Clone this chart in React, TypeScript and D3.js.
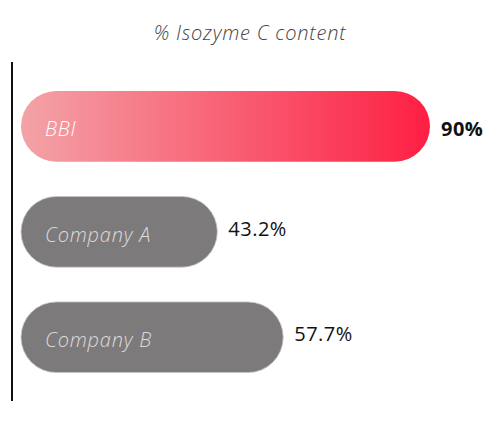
import React, { useEffect, useRef } from "react";
import * as d3 from "d3";

const categories = ["BBI", "Company A", "Company B"];
const values = [90, 43.2, 57.7];
const valueLabels = ["90%", "43.2%", "57.7%"];
const title = "% Isozyme C content";

const W = 500;
const H = 429;

export default function App() {
  const ref = useRef<SVGSVGElement | null>(null);

  useEffect(() => {
    const svg = d3.select(ref.current);
    svg.selectAll("*").remove();

    const font = "'Open Sans', 'Noto Sans', sans-serif";

    const x = d3.scaleLinear().domain([0, 90]).range([21, 430]);
    const y = d3
      .scaleBand<string>()
      .domain(categories)
      .range([73.6, 390])
      .paddingInner(0.33)
      .paddingOuter(0.165);

    const defs = svg.append("defs");
    const grad = defs
      .append("linearGradient")
      .attr("id", "bbi-grad")
      .attr("x1", "0%")
      .attr("x2", "100%")
      .attr("y1", "0%")
      .attr("y2", "0%");
    grad.append("stop").attr("offset", "0%").attr("stop-color", "#f3a3a7");
    grad.append("stop").attr("offset", "100%").attr("stop-color", "#fe1f43");

    // title
    svg
      .append("text")
      .attr("x", 250)
      .attr("y", 40)
      .attr("text-anchor", "middle")
      .attr("font-family", font)
      .attr("font-style", "italic")
      .attr("font-weight", 300)
      .attr("font-size", 20)
      .attr("letter-spacing", 0.8)
      .attr("fill", "#444")
      .text(title);

    // vertical axis line
    svg
      .append("line")
      .attr("x1", 12)
      .attr("x2", 12)
      .attr("y1", 62)
      .attr("y2", 401)
      .attr("stroke", "#111")
      .attr("stroke-width", 2);

    const rows = categories.map((c, i) => ({ c, v: values[i], label: valueLabels[i], i }));
    const bw = y.bandwidth();

    const g = svg.selectAll(".row").data(rows).join("g").attr("class", "row");

    g.append("rect")
      .attr("x", x(0))
      .attr("y", (d) => y(d.c)!)
      .attr("width", (d) => x(d.v) - x(0))
      .attr("height", bw)
      .attr("rx", bw / 2)
      .attr("ry", bw / 2)
      .attr("fill", (d) => (d.i === 0 ? "url(#bbi-grad)" : "#7d7a7b"))
      .attr("stroke", (d) => (d.i === 0 ? "none" : "#c9c7c8"))
      .attr("stroke-width", 0.8);

    g.append("text")
      .attr("x", 45)
      .attr("y", (d) => y(d.c)! + bw / 2 + 10)
      .attr("font-family", font)
      .attr("font-style", "italic")
      .attr("font-weight", 300)
      .attr("font-size", 20)
      .attr("letter-spacing", 0.8)
      .attr("fill", (d) => (d.i === 0 ? "#ffffff" : "#dddbdc"))
      .text((d) => d.c);

    g.append("text")
      .attr("x", (d) => x(d.v) + 11)
      .attr("y", (d) => y(d.c)! + bw / 2 + (d.i === 0 ? 10 : 4))
      .attr("font-family", font)
      .attr("font-weight", (d) => (d.i === 0 ? 700 : 400))
      .attr("font-size", 20)
      .attr("letter-spacing", 0.5)
      .attr("fill", "#111")
      .text((d) => d.label);
  }, []);

  return <svg ref={ref} width={W} height={H} style={{ display: "block", margin: "-8px" }} />;
}
